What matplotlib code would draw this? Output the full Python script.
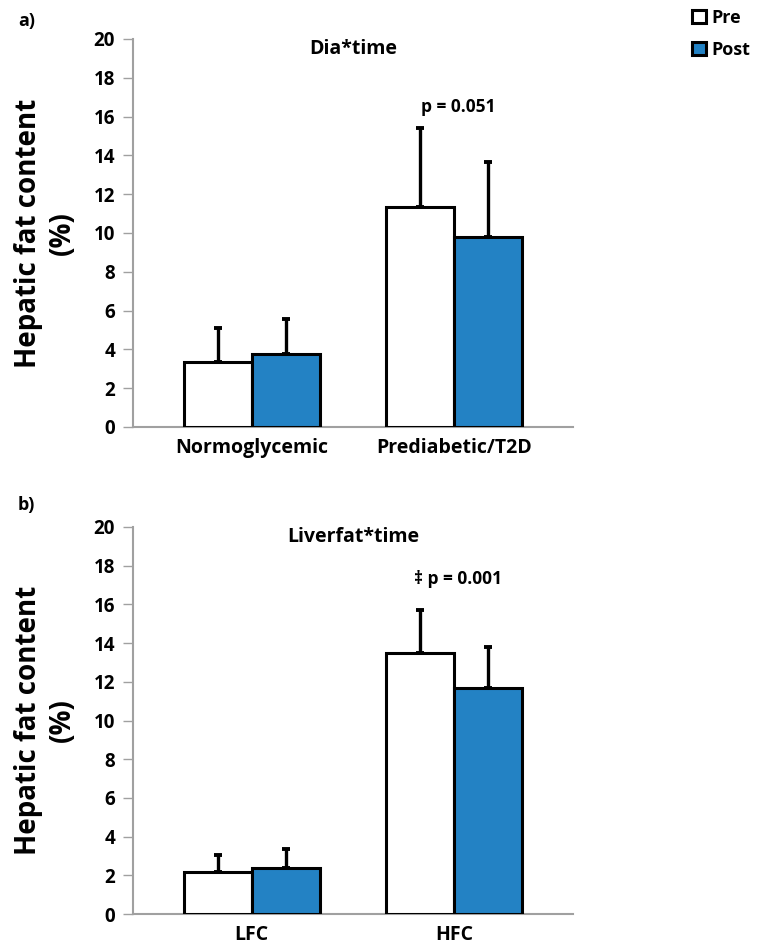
import matplotlib
matplotlib.use('Agg')
import matplotlib.pyplot as plt
import numpy as np

plt.rcParams['font.family'] = ['Open Sans', 'DejaVu Sans']
plt.rcParams['font.weight'] = 'bold'

# данные
groups_a = ['Normoglycemic', 'Prediabetic/T2D']
pre_a = [3.35, 11.33]
pre_a_sd = [1.75, 4.1]
post_a = [3.75, 9.8]
post_a_sd = [1.8, 3.86]

groups_b = ['LFC', 'HFC']
pre_b = [2.15, 13.47]
pre_b_sd = [0.92, 2.24]
post_b = [2.4, 11.68]
post_b_sd = [0.97, 2.13]

yticks = [0, 2, 4, 6, 8, 10, 12, 14, 16, 18, 20]
blue = '#2382c4'
W, H = 757, 949

fig = plt.figure(figsize=(W / 100, H / 100), dpi=100)


def panel(box, groups, pre, pre_sd, post, post_sd, title, note, note_y, letter, letter_y):
    left, top, right, bottom = box
    ax = fig.add_axes([left / W, 1 - bottom / H, (right - left) / W, (bottom - top) / H])
    x = np.arange(len(groups))
    w = 0.335
    ekw = dict(elinewidth=2.4, capsize=3, capthick=2.8, ecolor='black')
    b1 = ax.bar(x - w / 2, pre, w, color='white', edgecolor='black', linewidth=2.2,
                yerr=[np.zeros(len(pre)), pre_sd], error_kw=ekw, zorder=3)
    b2 = ax.bar(x + w / 2, post, w, color=blue, edgecolor='black', linewidth=2.2,
                yerr=[np.zeros(len(post)), post_sd], error_kw=ekw, zorder=3)
    ax.set_xlim(-0.586, 1.586)
    ax.set_ylim(0, 20)
    ax.set_yticks(yticks)
    ax.set_xticks(x)
    ax.set_xticklabels(groups, fontsize=14, fontweight='bold')
    ax.tick_params(axis='x', length=0, pad=8)
    ax.tick_params(axis='y', length=7, width=1, color='#a0a0a0', labelsize=13.5, pad=6)
    for lab in ax.get_yticklabels():
        lab.set_fontweight('bold')
    for s in ['top', 'right']:
        ax.spines[s].set_visible(False)
    for s in ['left', 'bottom']:
        ax.spines[s].set_color('#a0a0a0')
        ax.spines[s].set_linewidth(1.5)
    ax.text(0.5, 0.975, title, transform=ax.transAxes, ha='center', va='center',
            fontsize=14, fontweight='bold')
    ax.text(1.02, note_y, note, ha='center', va='center', fontsize=12.5, fontweight='bold')
    ax.set_ylabel('Hepatic fat content\n(%)', fontsize=20, fontweight='bold',
                  linespacing=1.2, labelpad=12)
    fig.text(18 / W, 1 - letter_y / H, letter, fontsize=13, fontweight='bold', va='center')
    return b1, b2


b1, b2 = panel((133, 39, 573, 427), groups_a, pre_a, pre_a_sd, post_a, post_a_sd,
               'Dia*time', 'p = 0.051', 16.5, 'a)', 21)
panel((133, 527, 573, 914), groups_b, pre_b, pre_b_sd, post_b, post_b_sd,
      'Liverfat*time', '\u2021 p = 0.001', 17.3, 'b)', 505)

fig.legend([b1, b2], ['Pre', 'Post'], loc='upper left', bbox_to_anchor=(692 / W, 1 - 9 / H),
           borderaxespad=0, borderpad=0,
           frameon=False, handlelength=0.75, handleheight=0.75, handletextpad=0.3,
           labelspacing=0.75, prop={'size': 13, 'weight': 'bold'})

fig.savefig('out.png', dpi=100)
